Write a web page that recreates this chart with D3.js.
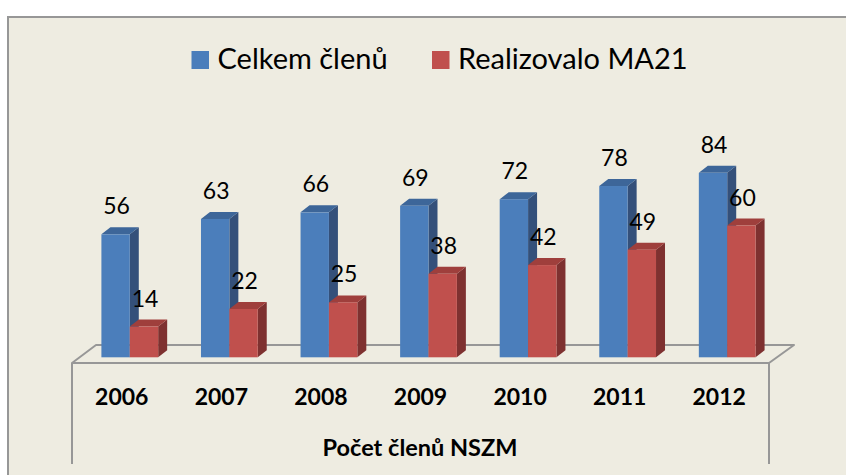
<!DOCTYPE html>
<html>
<head>
<meta charset="utf-8">
<script src="https://cdn.jsdelivr.net/npm/d3@7"></script>
<style>
  html, body { margin: 0; padding: 0; background: #ffffff; }
  svg { display: block; font-family: Lato, 'Open Sans', sans-serif; }
</style>
</head>
<body>
<div id="chart"></div>
<script>
/* Chart data */
const years = ['2006', '2007', '2008', '2009', '2010', '2011', '2012'];
const celkemClenu = [56, 63, 66, 69, 72, 78, 84];
const realizovaloMA21 = [14, 22, 25, 38, 42, 49, 60];
const seriesNames = ['Celkem členů', 'Realizovalo MA21'];
const axisTitle = 'Počet členů NSZM';

const WIDTH = 846;
const HEIGHT = 475;
const BG = '#eeece1';
const LINE = '#979797';

// front, top and side faces of each series
const COLORS = [
  { front: '#4b7ebb', top: '#3d6699', side: '#34507a' },
  { front: '#c0504d', top: '#9f3f3c', side: '#7e3130' }
];

// 3D floor geometry
const floor = { front: 363, back: 345, left: 72, right: 769, dx: 25 };
const depth = { dx: 9, dy: -7 }; // bar depth offset
const barPlaneShift = 8; // bars stand mid-floor

const svg = d3.select('#chart')
  .append('svg')
  .attr('width', WIDTH)
  .attr('height', HEIGHT);

// chart area background + frame
svg.append('rect')
  .attr('x', 8).attr('y', 17)
  .attr('width', WIDTH - 8).attr('height', HEIGHT - 17)
  .attr('fill', BG);
svg.append('path')
  .attr('d', `M8,${HEIGHT} V17 H${WIDTH}`)
  .attr('fill', 'none')
  .attr('stroke', LINE)
  .attr('stroke-width', 2);

const x = d3.scaleBand()
  .domain(years)
  .range([floor.left, floor.right])
  .paddingInner(0)
  .paddingOuter(0);

const y = d3.scaleLinear()
  .domain([0, 100])
  .range([357.3, 357.3 - 219.6]);

// floor
const g = svg.append('g');
g.append('path')
  .attr('d', `M${floor.left},${floor.front} L${floor.left + floor.dx - 1},${floor.back}` +
    ` H${floor.right + floor.dx} L${floor.right},${floor.front} Z`)
  .attr('fill', BG)
  .attr('stroke', LINE)
  .attr('stroke-width', 2)
  .attr('stroke-linejoin', 'round');

// axis box side lines
[floor.left, floor.right].forEach((xx) => {
  g.append('line')
    .attr('x1', xx).attr('x2', xx)
    .attr('y1', floor.front).attr('y2', 464)
    .attr('stroke', LINE)
    .attr('stroke-width', 2);
});

// bars
const barW = x.bandwidth() * 0.285;
const rows = years.map((yr, i) => ({ year: yr, values: [celkemClenu[i], realizovaloMA21[i]] }));

rows.forEach((row) => {
  const center = x(row.year) + x.bandwidth() / 2 + barPlaneShift;
  // blue first, so the red front covers the blue side face
  row.values.forEach((v, s) => {
    const x0 = center - barW + s * barW;
    const x1 = x0 + barW;
    const y0 = y(0);
    const y1 = y(v);
    const c = COLORS[s];
    const bar = g.append('g');
    // side face
    bar.append('path')
      .attr('d', `M${x1},${y0} L${x1 + depth.dx},${y0 + depth.dy} L${x1 + depth.dx},${y1 + depth.dy} L${x1},${y1} Z`)
      .attr('fill', c.side);
    // top face
    bar.append('path')
      .attr('d', `M${x0},${y1} L${x0 + depth.dx},${y1 + depth.dy} L${x1 + depth.dx},${y1 + depth.dy} L${x1},${y1} Z`)
      .attr('fill', c.top);
    // front face
    bar.append('rect')
      .attr('x', x0).attr('y', y1)
      .attr('width', barW).attr('height', y0 - y1)
      .attr('fill', c.front);
  });
  // value labels
  row.values.forEach((v, s) => {
    const x0 = center - barW + s * barW;
    g.append('text')
      .attr('x', x0 + barW / 2 + 1)
      .attr('y', y(v) - 20)
      .attr('text-anchor', 'middle')
      .style('font-size', '23px')
      .style('fill', '#000')
      .text(v);
  });
});

// category labels
g.selectAll('text.year')
  .data(years)
  .join('text')
  .attr('class', 'year')
  .attr('x', (d) => x(d) + x.bandwidth() / 2)
  .attr('y', 405)
  .attr('text-anchor', 'middle')
  .style('font-size', '23px')
  .style('font-weight', 'bold')
  .text((d) => d);

// axis title
svg.append('text')
  .attr('x', 420)
  .attr('y', 456)
  .attr('text-anchor', 'middle')
  .style('font-size', '23.5px')
  .style('font-weight', 'bold')
  .text(axisTitle);

// legend
const legendX = [191.5, 432];
const legend = svg.append('g');
seriesNames.forEach((name, i) => {
  legend.append('rect')
    .attr('x', legendX[i]).attr('y', 51)
    .attr('width', 17.5).attr('height', 18)
    .attr('fill', COLORS[i].front);
  legend.append('text')
    .attr('x', legendX[i] + 26)
    .attr('y', 69)
    .style('font-size', '29px')
    .text(name);
});
</script>
</body>
</html>
